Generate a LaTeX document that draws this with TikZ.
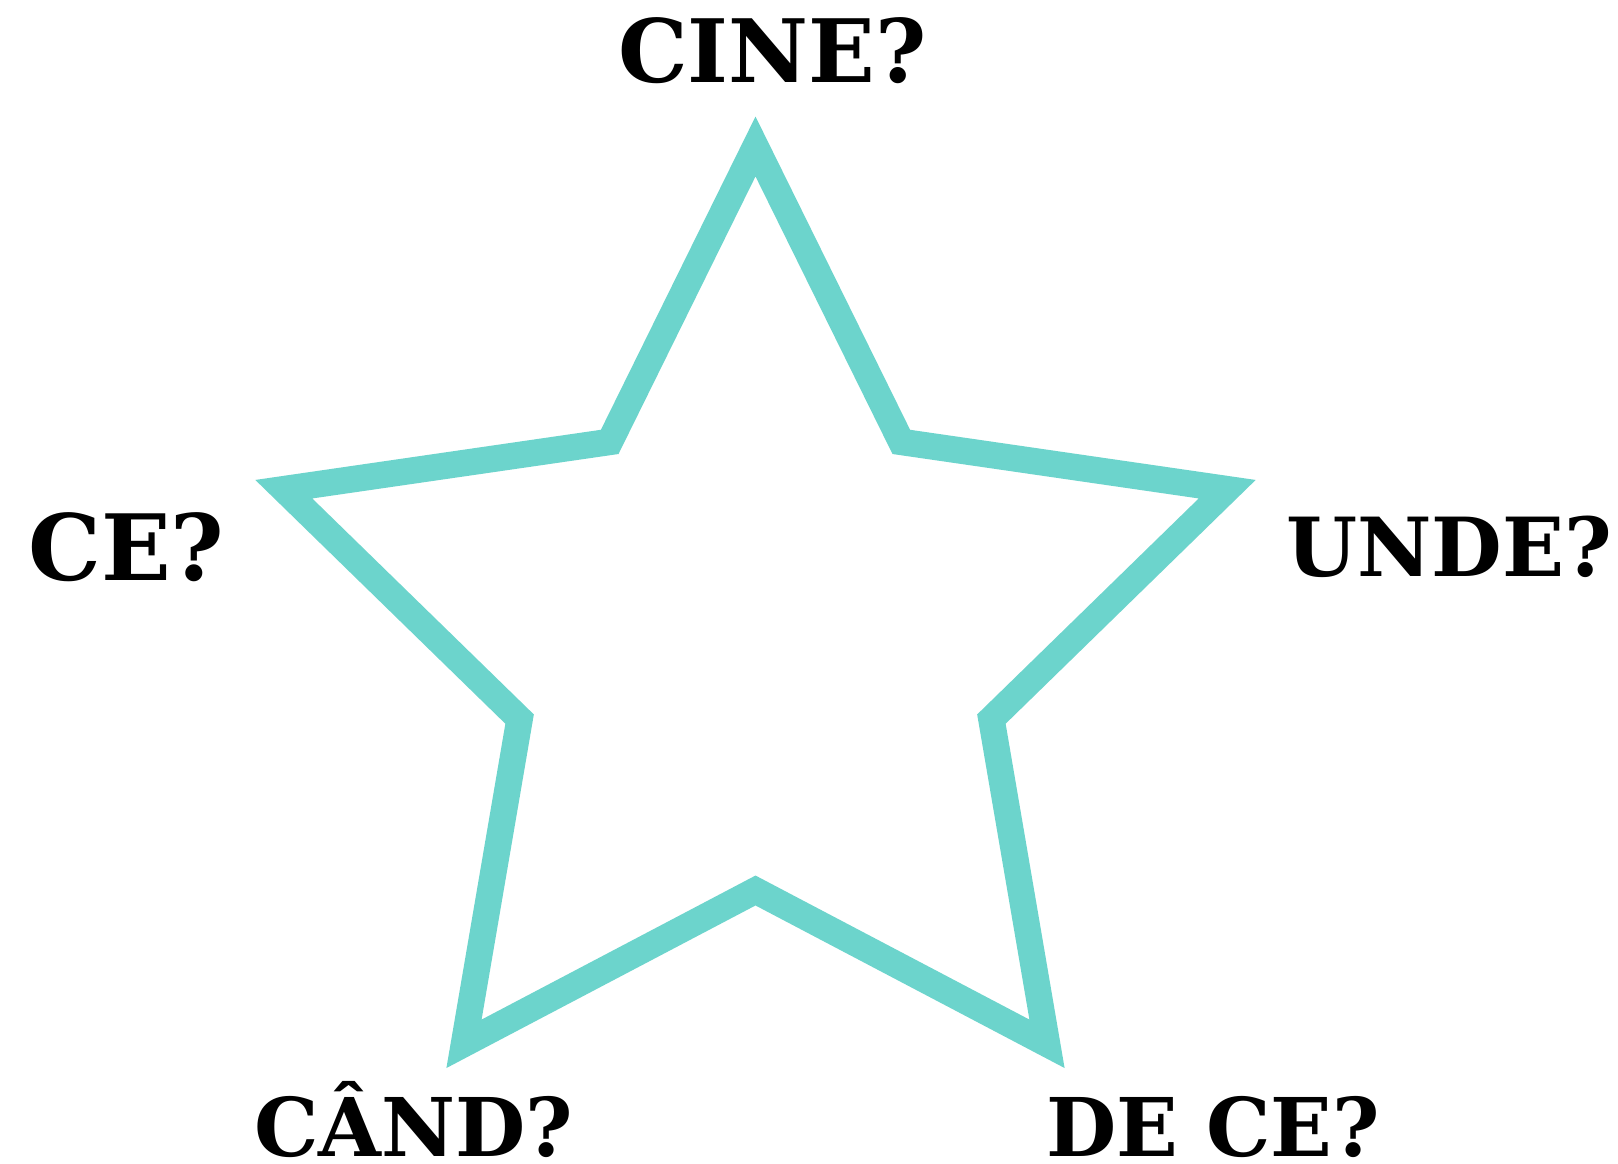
\documentclass[tikz,border=0pt]{standalone}
\usepackage{fontspec}
\setmainfont{DejaVu Serif}
\definecolor{starteal}{HTML}{6CD4CC}
\begin{document}
\begin{tikzpicture}[x=1pt,y=-1pt,
  lbl/.style={anchor=base west,inner sep=0pt,font=\bfseries\fontsize{#1}{#1}\selectfont},
  starline/.style={draw=starteal,line width=26.5pt,line join=miter}]
\useasboundingbox (0,0) rectangle (1618,1164);
\fill[white] (0,0) rectangle (1618,1164);
\draw[starline] (755.5,146.5) -- (901.3,441.9) -- (1227.2,489.2) -- (991.4,719.1)
  -- (1047.0,1043.8) -- (755.5,890.5) -- (464.0,1043.8) -- (519.6,719.1)
  -- (283.8,489.2) -- (609.7,441.9) -- cycle;
\node[lbl=87.5] (cine) at (618,82.5) {CINE?};
\node[lbl=91.5] (ce) at (28,580) {CE?};
\node[lbl=81.5] (unde) at (1286,576) {UNDE?};
\node[lbl=81] (cand) at (254,1156) {CÂND?};
\node[lbl=81] (dece) at (1046,1156) {DE CE?};
\end{tikzpicture}
\end{document}
